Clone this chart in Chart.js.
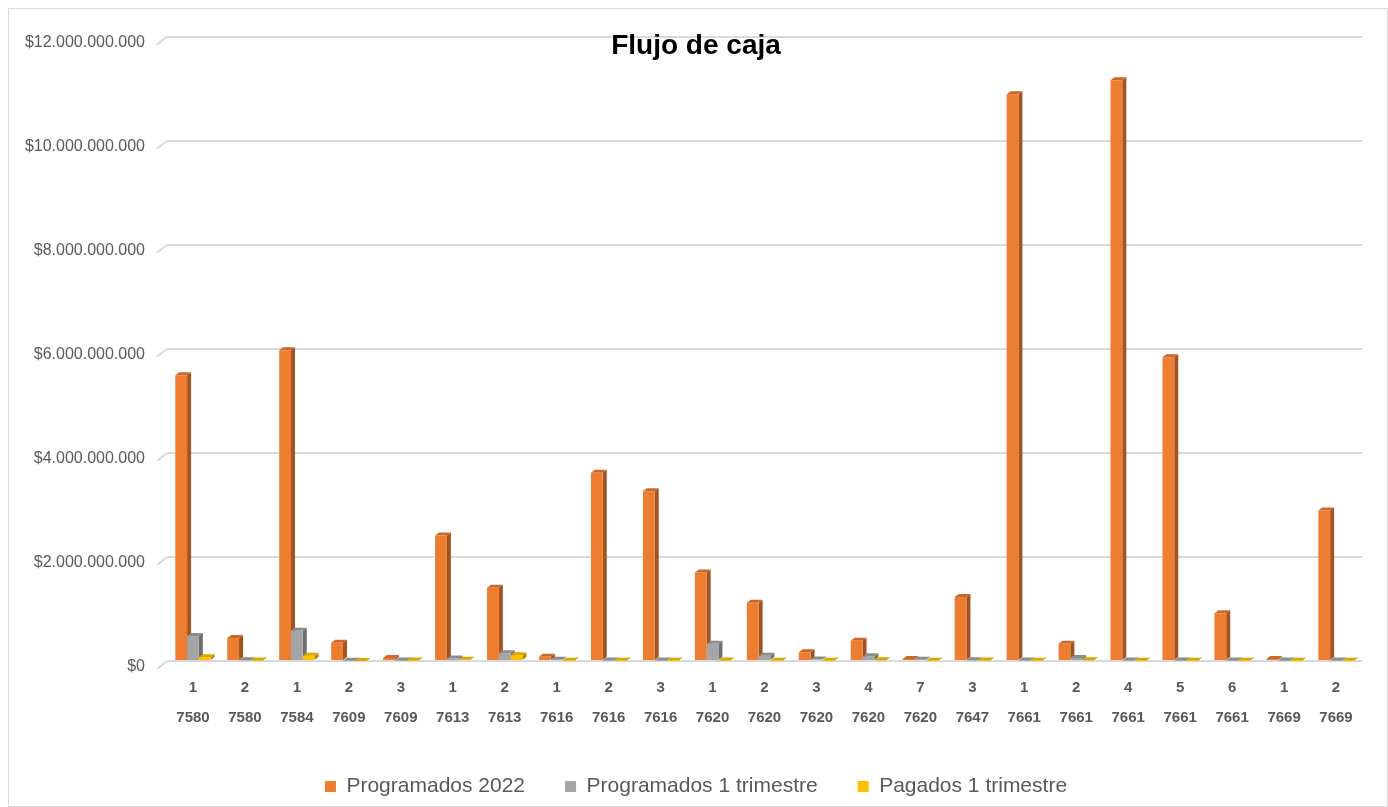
<!DOCTYPE html>
<html>
<head>
<meta charset="utf-8">
<title>Flujo de caja</title>
<script src="https://cdn.jsdelivr.net/npm/chart.js@4.4.1/dist/chart.umd.min.js"></script>
<style>
  html, body { margin: 0; padding: 0; background: #fff; }
  #wrap { position: relative; width: 1388px; height: 807px; }
</style>
</head>
<body>
<div id="wrap"><canvas id="myChart" width="1388" height="807"></canvas></div>
<script>
// data (values in pesos)
const items = ['1','2','1','2','3','1','2','1','2','3','1','2','3','4','7','3','1','2','4','5','6','1','2'];
const proyectos = ['7580','7580','7584','7609','7609','7613','7613','7616','7616','7616','7620','7620','7620','7620','7620','7647','7661','7661','7661','7661','7661','7669','7669'];

const programados2022 = [5490e6, 440e6, 5970e6, 350e6, 60e6, 2410e6, 1410e6, 80e6, 3620e6, 3260e6,
  1700e6, 1120e6, 170e6, 390e6, 40e6, 1230e6, 10890e6, 330e6, 11160e6, 5840e6, 920e6, 40e6, 2890e6];
const programados1T = [480e6, 15e6, 580e6, 5e6, 10e6, 50e6, 150e6, 25e6, 10e6, 10e6,
  330e6, 100e6, 30e6, 90e6, 25e6, 15e6, 10e6, 60e6, 10e6, 10e6, 10e6, 10e6, 10e6];
const pagados1T = [70e6, 10e6, 100e6, 0, 10e6, 25e6, 110e6, 5e6, 5e6, 5e6,
  10e6, 5e6, 5e6, 15e6, 5e6, 10e6, 5e6, 15e6, 5e6, 5e6, 5e6, 5e6, 5e6];

const seriesNames = ['Programados 2022', 'Programados 1 trimestre', 'Pagados 1 trimestre'];
const yMax = 12000000000;
const yStep = 2000000000;

const FONT = "'Liberation Sans', Arial, sans-serif";
Chart.defaults.font.family = FONT;
Chart.defaults.color = '#595959';

function pesos(v) {
  return '$' + String(Math.round(v)).replace(/\B(?=(\d{3})+(?!\d))/g, '.');
}

// fake 3d: side + top faces drawn behind the fronts
const bar3d = {
  id: 'bar3d',
  beforeDatasetsDraw(chart) {
    const ctx = chart.ctx;
    const dx = 4, dy = 3;
    ctx.save();
    chart.data.datasets.forEach((ds, i) => {
      const meta = chart.getDatasetMeta(i);
      meta.data.forEach(bar => {
        const p = bar.getProps(['x', 'y', 'base', 'width'], true);
        const l = p.x - p.width / 2, r = p.x + p.width / 2;
        ctx.fillStyle = ds.sideColor;
        ctx.beginPath();
        ctx.moveTo(r, p.y);
        ctx.lineTo(r + dx, p.y - dy);
        ctx.lineTo(r + dx, p.base - dy);
        ctx.lineTo(r, p.base);
        ctx.closePath();
        ctx.fill();
        ctx.fillStyle = ds.topColor;
        ctx.beginPath();
        ctx.moveTo(l, p.y);
        ctx.lineTo(l + dx, p.y - dy);
        ctx.lineTo(r + dx, p.y - dy);
        ctx.lineTo(r, p.y);
        ctx.closePath();
        ctx.fill();
      });
    });
    ctx.restore();
  }
};

// outer frame and the little slanted wall stubs on the left
const frame = {
  id: 'frame',
  beforeDraw(chart) {
    const ctx = chart.ctx;
    ctx.save();
    ctx.strokeStyle = '#d9d9d9';
    ctx.lineWidth = 1;
    ctx.strokeRect(8.5, 8.5, chart.width - 9, chart.height - 9);
    const ys = chart.scales.y;
    const left = chart.chartArea.left;
    ctx.lineWidth = 2;
    ys.ticks.forEach(t => {
      const py = ys.getPixelForValue(t.value);
      ctx.beginPath();
      ctx.moveTo(left - 10, py + 8);
      ctx.lineTo(left, py);
      ctx.stroke();
    });
    ctx.restore();
  }
};

const ctx = document.getElementById('myChart').getContext('2d');
window.myChart = new Chart(ctx, {
  type: 'bar',
  data: {
    labels: items.map((it, i) => [it, proyectos[i]]),
    datasets: [{
      label: seriesNames[0],
      data: programados2022,
      backgroundColor: '#ed7d31',
      sideColor: '#a2531f',
      topColor: '#c9682a'
    }, {
      label: seriesNames[1],
      data: programados1T,
      backgroundColor: '#a5a5a5',
      sideColor: '#6f6f6f',
      topColor: '#8c8c8c'
    }, {
      label: seriesNames[2],
      data: pagados1T,
      backgroundColor: '#ffc000',
      sideColor: '#b48700',
      topColor: '#dca600'
    }]
  },
  options: {
    responsive: false,
    animation: false,
    datasets: {
      bar: { categoryPercentage: 0.68, barPercentage: 1.0, borderWidth: 0 }
    },
    layout: { padding: { left: 8, right: 4, top: 0, bottom: 0 } },
    plugins: {
      title: {
        display: true,
        text: 'Flujo de caja',
        color: '#000',
        font: { size: 28, weight: 'bold' },
        padding: { top: 29, bottom: -26 }
      },
      legend: {
        position: 'bottom',
        labels: {
          boxWidth: 11,
          boxHeight: 11,
          padding: 40,
          color: '#595959',
          font: { size: 21 }
        }
      },
      tooltip: { enabled: false }
    },
    scales: {
      x: {
        grid: { display: false, drawTicks: false },
        border: { display: false },
        ticks: {
          color: '#595959',
          font: { size: 15, weight: 'bold', lineHeight: 2 },
          padding: 12,
          maxRotation: 0,
          autoSkip: false
        },
        afterFit(s) { s.height = 75; }
      },
      y: {
        min: 0,
        max: yMax,
        grid: { color: '#d9d9d9', lineWidth: 2, drawTicks: false },
        border: { display: false },
        ticks: {
          stepSize: yStep,
          padding: 22,
          labelOffset: 6,
          color: '#595959',
          font: { size: 16 },
          callback: v => pesos(v)
        },
        afterFit(s) { s.width = 159; }
      },
      // empty strip on the right so the plot ends where the reference does
      pad: {
        type: 'linear',
        position: 'right',
        display: true,
        grid: { display: false, drawTicks: false },
        border: { display: false },
        ticks: { display: false },
        afterFit(s) { s.width = 22; }
      }
    }
  },
  plugins: [frame, bar3d]
});
</script>
</body>
</html>
